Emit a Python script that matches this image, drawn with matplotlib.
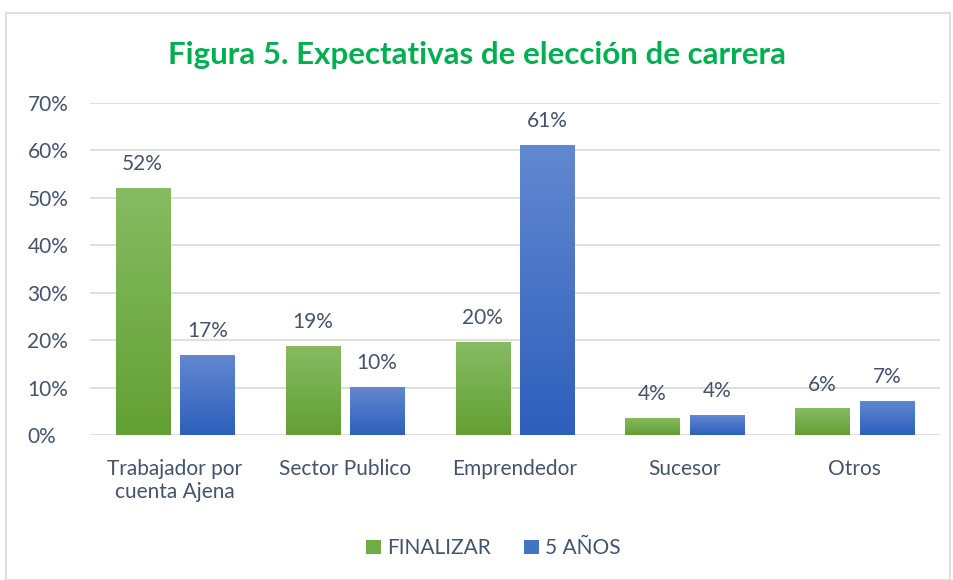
import matplotlib
matplotlib.use("Agg")
import matplotlib.pyplot as plt
import numpy as np
from matplotlib.colors import LinearSegmentedColormap
from matplotlib.patches import Rectangle

categories = ["Trabajador por\ncuenta Ajena", "Sector Publico", "Emprendedor", "Sucesor", "Otros"]
finalizar = [0.52, 0.188, 0.196, 0.036, 0.056]
cinco_anos = [0.169, 0.101, 0.612, 0.042, 0.072]
series_names = ["FINALIZAR", "5 AÑOS"]
yticks = [0, 0.1, 0.2, 0.3, 0.4, 0.5, 0.6, 0.7]

plt.rcParams['font.family'] = ['Lato', 'DejaVu Sans']
text_color = "#44546A"

fig = plt.figure(figsize=(9.54, 5.8), dpi=100)
fig.patches.append(Rectangle((0.006, 0.0), 0.99, 0.978, transform=fig.transFigure,
                             fill=False, edgecolor="#D9D9D9", linewidth=1.2))
ax = fig.add_axes([0.0943, 0.25, 0.8907, 0.5724])

x = np.arange(len(categories))
w = 0.318
off = 0.19
b1 = ax.bar(x - off, finalizar, w, color="#70AD47", label=series_names[0], zorder=2)
b2 = ax.bar(x + off, cinco_anos, w, color="#4472C4", label=series_names[1], zorder=2)

green = LinearSegmentedColormap.from_list("g", ["#63A033", "#86BC63"])
blue = LinearSegmentedColormap.from_list("b", ["#2E5FBC", "#6288D1"])
grad = np.linspace(0, 1, 256).reshape(-1, 1)
for bars, cmap in ((b1, green), (b2, blue)):
    for r in bars:
        x0, y0 = r.get_x(), r.get_y()
        ww, hh = r.get_width(), r.get_height()
        im = ax.imshow(grad, cmap=cmap, origin="lower", aspect="auto",
                       extent=(x0, x0 + ww, y0, y0 + hh), zorder=3)
        im.set_clip_path(r)
        r.set_facecolor("none")

for bars, vals in ((b1, finalizar), (b2, cinco_anos)):
    for r, v in zip(bars, vals):
        ax.annotate(f"{round(v*100):.0f}%", (r.get_x() + r.get_width()/2, v),
                    xytext=(0, 10), textcoords="offset points", ha="center", va="bottom",
                    fontsize=15, color=text_color)

ax.set_xlim(-0.5, len(categories) - 0.5)
ax.set_ylim(0, 0.7)
ax.set_yticks(yticks)
ax.set_yticklabels([f"{int(round(t*100))}%" for t in yticks])
ax.set_xticks(x)
ax.set_xticklabels(categories)
ax.tick_params(axis="both", length=0, labelsize=15, colors=text_color)
ax.tick_params(axis="x", pad=17)
ax.tick_params(axis="y", pad=45)
for lab in ax.get_yticklabels():
    lab.set_ha("left")
ax.grid(axis="y", color="#D9D9D9", linewidth=1.2, zorder=0)
for s in ax.spines.values():
    s.set_visible(False)
ax.set_axisbelow(True)

fig.text(0.5, 0.905, "Figura 5. Expectativas de elección de carrera", ha="center", va="center",
         fontsize=22.5, fontweight="bold", color="#00B050")

leg = fig.legend(handles=[b1, b2], labels=series_names, loc="center", bbox_to_anchor=(0.517, 0.055),
                 ncol=2, frameon=False, fontsize=15, handlelength=0.7, handleheight=0.7,
                 columnspacing=1.6, handletextpad=0.3, labelcolor=text_color)
for h, c in zip(leg.legend_handles, ["#70AD47", "#4472C4"]):
    h.set_facecolor(c)

fig.savefig("out.png", dpi=100)
